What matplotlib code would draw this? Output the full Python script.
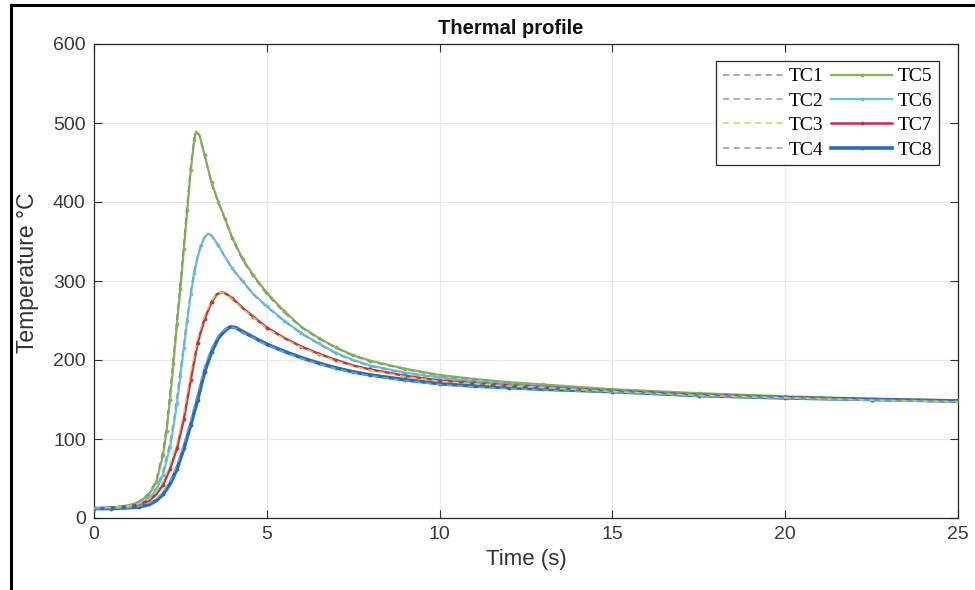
import matplotlib
matplotlib.use("Agg")
import matplotlib.pyplot as plt
from matplotlib.lines import Line2D

# ---- data ----
t5 = [0, 0.5, 1.0, 1.3, 1.6, 1.8, 2.0, 2.1, 2.2, 2.3, 2.4, 2.5, 2.6, 2.7, 2.8, 2.9, 2.95,
      3.05, 3.2, 3.4, 3.6, 3.8, 4.0, 4.3, 4.6, 5.0, 5.5, 6.0, 6.5, 7.0, 7.5, 8, 9, 10, 11,
      12, 13, 15, 17.5, 20, 22.5, 25]
tc5 = [12, 13, 16, 20, 30, 45, 80, 110, 150, 195, 245, 290, 340, 390, 440, 478, 489,
       485, 460, 425, 400, 378, 355, 328, 308, 285, 262, 242, 228, 216, 206, 199, 189, 181, 176,
       172, 169, 163, 158, 154, 151, 149]
tc1 = [12, 13, 16, 21, 32, 48, 86, 118, 160, 205, 255, 300, 350, 400, 447, 481, 490,
       484, 458, 423, 398, 376, 353, 326, 306, 283, 260, 241, 227, 215, 205, 198, 188, 180, 175,
       171, 168, 162, 157, 153, 150, 148]

t6 = [0, 0.5, 1.0, 1.3, 1.6, 1.8, 2.0, 2.2, 2.3, 2.4, 2.5, 2.6, 2.7, 2.8, 2.9, 3.0, 3.1,
      3.2, 3.3, 3.4, 3.6, 3.8, 4.0, 4.3, 4.6, 5.0, 5.5, 6.0, 6.5, 7.0, 7.5, 8, 9, 10, 11,
      12, 13, 15, 17.5, 20, 22.5, 25]
tc6 = [12, 13, 15, 18, 25, 35, 55, 90, 115, 145, 180, 215, 250, 283, 310, 330, 345,
       355, 360, 358, 345, 330, 316, 300, 284, 268, 250, 234, 221, 209, 200, 193, 184, 178, 173,
       170, 167, 161, 156, 153, 150, 148]
tc2 = [12, 13, 15, 19, 27, 38, 60, 96, 122, 153, 188, 222, 256, 288, 314, 333, 347,
       356, 360, 357, 344, 329, 315, 299, 283, 267, 249, 233, 220, 208, 199, 192, 183, 177, 172,
       169, 166, 160, 155, 152, 149, 147]

t7 = [0, 0.5, 1.0, 1.3, 1.6, 1.8, 2.0, 2.2, 2.4, 2.6, 2.8, 3.0, 3.2, 3.4, 3.55, 3.7, 3.85,
      4.0, 4.3, 4.6, 5.0, 5.5, 6.0, 6.5, 7.0, 7.5, 8, 9, 10, 11, 12, 13, 15, 17.5, 20,
      22.5, 25]
tc7 = [12, 13, 15, 17, 22, 30, 42, 62, 88, 125, 175, 222, 252, 273, 283, 286, 283,
       278, 266, 255, 241, 228, 217, 208, 200, 193, 188, 180, 174, 171, 168, 166, 161, 156, 153,
       150, 148]
tc3 = [12, 13, 15, 18, 24, 33, 46, 68, 95, 134, 184, 228, 256, 275, 284, 286, 282,
       277, 265, 254, 240, 227, 216, 207, 199, 192, 187, 179, 173, 170, 167, 165, 160, 155, 152,
       149, 147]

t8 = [0, 0.5, 1.0, 1.3, 1.6, 1.8, 2.0, 2.2, 2.4, 2.6, 2.8, 3.0, 3.2, 3.4, 3.6, 3.8, 3.95,
      4.1, 4.3, 4.6, 5.0, 5.5, 6.0, 6.5, 7.0, 7.5, 8, 9, 10, 11, 12, 13, 15, 17.5, 20,
      22.5, 25]
tc8 = [12, 12, 13, 14, 17, 22, 30, 43, 62, 88, 118, 150, 185, 210, 228, 238, 242,
       241, 236, 229, 220, 211, 203, 196, 190, 185, 181, 175, 170, 167, 165, 163, 160, 155, 152,
       150, 148]
tc4 = [12, 12, 13, 15, 19, 24, 33, 47, 67, 94, 125, 158, 192, 215, 231, 239, 242,
       240, 235, 228, 219, 210, 202, 195, 189, 184, 180, 174, 169, 166, 164, 162, 159, 154, 151,
       149, 147]

labels = ["TC1", "TC2", "TC3", "TC4", "TC5", "TC6", "TC7", "TC8"]
x_ticks = [0, 5, 10, 15, 20, 25]
y_ticks = [0, 100, 200, 300, 400, 500, 600]

# ---- styling ----
plt.rcParams['font.family'] = ['Liberation Sans', 'DejaVu Sans']

fig = plt.figure(figsize=(9.75, 5.9), dpi=100)
ax = fig.add_axes([94/975, 1-518/590, (958-94)/975, (518-44)/590])

dash_cols = ["#7f9a86", "#8aa0b4", "#c9d64f", "#8b9cab"]
solid_cols = ["#86b54a", "#5cc3ea", "#c2324c", "#1f6fc0"]
solid_lw = [1.6, 1.6, 1.8, 2.6]

handles = []
dashed = [(t5, tc1), (t6, tc2), (t7, tc3), (t8, tc4)]
solid = [(t5, tc5), (t6, tc6), (t7, tc7), (t8, tc8)]
for i, (tt, yy) in enumerate(solid):
    h, = ax.plot(tt, yy, '-', color=solid_cols[i], lw=solid_lw[i], marker='.',
                 markersize=3.5, markevery=0.025, zorder=3 + i * 0.1)
    handles.append(h)
dh = []
for i, (tt, yy) in enumerate(dashed):
    h, = ax.plot(tt, yy, '--', color=dash_cols[i], lw=1.1, dashes=(4, 3), zorder=4)
    dh.append(h)

ax.set_xlim(0, 25)
ax.set_ylim(0, 600)
ax.set_xticks(x_ticks)
ax.set_yticks(y_ticks)
ax.tick_params(direction='in', top=True, right=True, length=6, width=0.8,
               labelsize=14, colors='#333333', labelcolor='#3a3a3a', pad=6)
ax.grid(True, color='#e8e8e8', lw=0.8)
ax.set_axisbelow(True)
for s in ax.spines.values():
    s.set_color('#262626')
    s.set_linewidth(0.9)

ax.set_xlabel("Time (s)", fontsize=16, color='#333333', labelpad=4)
ax.set_ylabel("Temperature °C", fontsize=16.5, color='#333333')
ax.yaxis.set_label_coords((39-94)/864, (518-273)/474)
ax.set_title("Thermal profile", fontsize=14.5, fontweight='bold', color='#111111',
             x=(511-94)/864, pad=7)

leg = ax.legend(dh + handles, labels, ncol=2, loc='upper right',
                bbox_to_anchor=((939-94)/864, (518-61)/474), borderaxespad=0,
                prop={'family': 'Liberation Serif', 'size': 14},
                handlelength=3.1, handletextpad=0.3, columnspacing=0.4,
                labelspacing=0.35, borderpad=0.35, fancybox=False, framealpha=1)
leg.get_frame().set_edgecolor('#262626')
leg.get_frame().set_linewidth(0.9)

# figure border lines (left and top)
fig.add_artist(Line2D([11/975, 11/975], [0, 1-5/590], color='black', lw=2.2, transform=fig.transFigure))
fig.add_artist(Line2D([11/975, 1], [1-5/590, 1-5/590], color='black', lw=2.2, transform=fig.transFigure))

fig.savefig("out.png", dpi=100)
